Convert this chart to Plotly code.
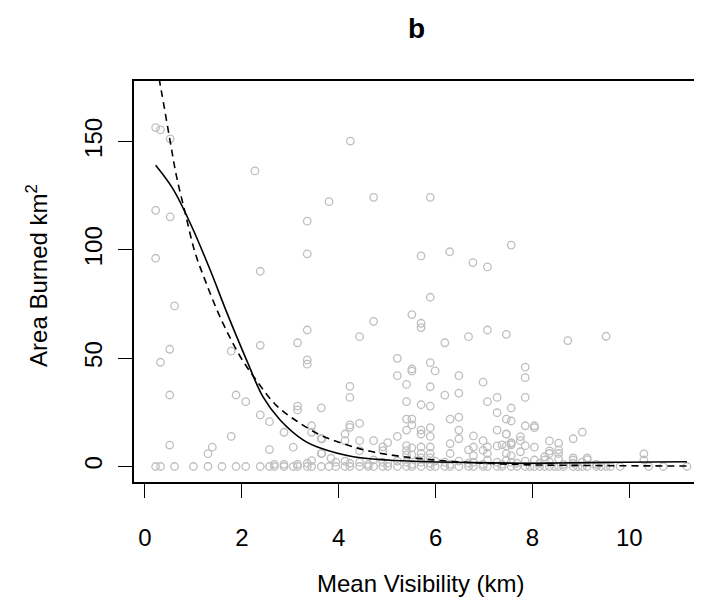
#!/usr/bin/env python3
"""
Panel b - area burned against mean visibility
Grey open circles for the fires, solid and dashed fitted curves on top
"""

import plotly.graph_objects as go

# Fires with some area burned (visibility km, area km2)
vis = [
    0.22, 0.32, 0.52, 2.27, 3.80, 0.22, 0.52, 3.35, 0.22, 3.35, 2.38, 4.24, 4.72, 5.89,
    5.70, 6.29, 6.77, 7.07, 7.56, 0.61, 3.35, 0.51, 3.15, 2.38, 1.78, 0.32, 3.35, 3.35,
    0.51, 1.88, 2.08, 3.15, 3.15, 3.64, 2.38, 2.57, 3.44, 3.44, 2.87, 1.78, 3.64, 0.51,
    1.39, 1.30, 3.06, 2.57, 3.64, 3.44, 2.87, 5.89, 5.51, 5.70, 5.70, 4.72, 4.43, 6.19,
    6.68, 7.07, 7.46, 5.21, 5.21, 5.51, 5.51, 5.89, 5.99, 6.48, 5.40, 5.89, 4.23, 4.23,
    6.19, 6.48, 6.98, 7.07, 7.27, 5.40, 5.70, 5.89, 7.56, 5.40, 5.51, 5.51, 6.30, 6.48,
    7.27, 7.46, 7.56, 4.23, 4.23, 4.43, 4.13, 5.40, 5.70, 5.70, 5.89, 5.89, 6.48, 6.48,
    6.78, 7.27, 7.46, 6.98, 7.56, 4.13, 4.43, 4.72, 5.01, 5.21, 4.91, 4.91, 4.43, 5.40,
    5.40, 5.40, 5.51, 5.51, 5.70, 5.70, 5.70, 5.89, 5.89, 5.89, 6.30, 6.30, 6.68, 6.78,
    6.78, 6.98, 7.07, 7.07, 7.27, 7.37, 7.46, 7.56, 7.46, 7.56, 3.65, 3.65, 3.84, 7.85,
    7.85, 7.85, 7.85, 8.04, 8.04, 7.46, 7.75, 7.75, 7.56, 7.85, 8.04, 7.75, 8.35, 8.54,
    8.84, 9.03, 8.54, 8.54, 8.35, 8.35, 8.25, 8.25, 8.84, 8.84, 9.13, 10.30, 10.30, 9.13,
    8.73, 9.52,
    3.94, 4.13, 4.23, 4.43, 4.61, 4.72, 4.91, 5.01, 5.21, 5.40, 5.51, 5.70, 5.89, 5.99,
    6.19, 6.30, 6.48, 6.68, 6.78, 6.98, 7.07, 7.27, 7.37, 7.46, 7.56, 7.68, 7.85, 8.04,
    8.15, 8.35, 8.54, 8.64, 8.84, 9.03, 9.32, 2.67, 3.15, 3.35,
]
area = [
    156.4, 155.3, 151.2, 136.4, 122.2, 118.2, 115.2, 113.2, 96.1, 98.1, 90.1, 150.2, 124.2, 124.2,
    97.2, 99.1, 94.1, 92.1, 102.2, 74.1, 63.0, 54.1, 57.1, 55.9, 53.2, 48.1, 49.2, 47.2,
    33.0, 33.0, 29.9, 27.9, 26.1, 27.1, 23.8, 20.7, 18.8, 15.8, 15.8, 13.9, 13.0, 9.9,
    8.9, 5.9, 8.9, 7.8, 5.9, 2.7, 1.0, 78.1, 70.1, 66.1, 64.1, 67.0, 59.9, 57.1,
    59.9, 63.0, 61.0, 49.9, 41.9, 45.0, 44.0, 47.9, 44.1, 41.9, 37.9, 36.8, 37.0, 31.9,
    32.9, 33.9, 38.9, 29.9, 31.9, 29.9, 28.5, 27.9, 27.0, 21.9, 21.9, 19.2, 21.9, 22.8,
    24.8, 21.9, 21.0, 19.2, 18.1, 19.9, 15.0, 16.8, 16.8, 15.0, 17.9, 13.9, 16.8, 12.8,
    14.1, 16.8, 15.0, 11.9, 11.0, 11.9, 11.9, 11.9, 11.0, 13.9, 9.1, 7.3, 7.3, 9.6,
    7.3, 5.3, 8.6, 5.4, 9.0, 6.0, 4.0, 9.0, 6.0, 4.0, 10.6, 6.0, 7.7, 9.0,
    5.0, 7.5, 9.0, 6.0, 9.5, 10.0, 9.5, 10.0, 6.0, 5.0, 12.6, 6.1, 3.8, 45.9,
    41.0, 31.9, 18.8, 18.8, 17.9, 14.9, 13.8, 11.9, 10.7, 9.6, 8.9, 6.8, 11.8, 10.8,
    12.8, 15.9, 7.7, 6.0, 7.2, 6.0, 4.5, 3.0, 4.0, 3.0, 3.2, 5.8, 3.0, 4.0,
    58.1, 60.1,
    2.0, 2.5, 1.5, 2.0, 1.0, 3.0, 2.0, 1.5, 2.5, 2.0, 1.0, 2.0, 1.5, 2.5,
    2.0, 1.0, 2.5, 1.5, 2.0, 1.0, 3.0, 2.0, 1.0, 3.0, 2.0, 1.5, 2.5, 3.0,
    1.5, 2.0, 3.5, 1.0, 1.5, 2.0, 1.0, 1.0, 1.0, 1.5,
]

# Fires with no area burned (one per visibility value along the bottom row)
vis_zero = [
    0.22, 0.32, 0.61, 1.00, 1.30, 1.59, 1.88, 2.08, 2.38, 2.57, 2.67, 2.87, 3.06, 3.15,
    3.35, 3.44, 3.64, 3.80, 3.94, 4.13, 4.23, 4.43, 4.61, 4.72, 4.91, 5.01, 5.21, 5.40,
    5.51, 5.70, 5.89, 5.99, 6.19, 6.30, 6.48, 6.68, 6.78, 6.98, 7.07, 7.27, 7.37, 7.56,
    7.68, 7.85, 7.95, 8.04, 8.15, 8.25, 8.35, 8.45, 8.54, 8.64, 8.84, 8.94, 9.03, 9.13,
    9.32, 9.42, 9.52, 9.61, 9.81, 10.40, 10.70, 11.19,
]
area_zero = [0.0] * len(vis_zero)

# Fitted curves
fit_solid_x = [0.22, 0.58, 0.96, 1.34, 1.69, 2.10, 2.44, 2.79, 3.27, 3.62, 4.30, 4.99,
               5.89, 6.80, 7.75, 8.50, 9.50, 10.50, 11.19]
fit_solid_y = [139.0, 128.0, 111.0, 91.0, 71.0, 49.0, 32.0, 21.5, 12.2, 8.5, 4.5, 3.0,
               2.2, 1.8, 1.5, 1.6, 1.9, 2.1, 2.2]
fit_dash_x = [0.22, 0.30, 0.38, 0.52, 0.65, 0.83, 1.03, 1.24, 1.55, 1.96, 2.34, 2.72,
              3.13, 3.62, 4.10, 4.65, 5.34, 6.37, 7.75, 9.00, 11.19]
fit_dash_y = [190.0, 178.0, 168.0, 150.0, 134.0, 117.0, 99.0, 86.0, 69.0, 51.0, 38.5, 28.0,
              21.0, 14.5, 10.5, 7.0, 4.5, 2.3, 0.9, 0.5, 0.2]

x_ticks = [0, 2, 4, 6, 8, 10]
y_ticks = [0, 50, 100, 150]

FONT = "Arial, Liberation Sans, sans-serif"
GREY = "#BEBEBE"

fig = go.Figure()

# Points first, curves drawn over them
point_style = dict(symbol="circle-open", size=7.5, color=GREY, line=dict(color=GREY, width=1.3))
fig.add_trace(go.Scatter(x=vis_zero, y=area_zero, mode="markers", marker=point_style))
fig.add_trace(go.Scatter(x=vis, y=area, mode="markers", marker=point_style))

fig.add_trace(go.Scatter(
    x=fit_solid_x, y=fit_solid_y, mode="lines",
    line=dict(color="black", width=1.6, shape="spline"),
))
fig.add_trace(go.Scatter(
    x=fit_dash_x, y=fit_dash_y, mode="lines",
    line=dict(color="black", width=1.6, dash="7px,5px", shape="spline"),
))

# page body adds an 8px offset, so the figure is a bit smaller than the window
fig.update_layout(
    width=694, height=600,
    margin=dict(l=126, r=0, t=73, b=126),
    showlegend=False,
    plot_bgcolor="white", paper_bgcolor="white",
    font=dict(family=FONT, size=24, color="black"),
)

fig.update_xaxes(
    range=[-0.227, 11.5], tickvals=x_ticks,
    ticks="outside", ticklen=14, tickwidth=1.3, tickcolor="black",
    showline=True, linecolor="black", linewidth=1.5, mirror=True,
    showgrid=False, zeroline=False, ticklabelstandoff=19,
)
fig.update_yaxes(
    range=[-7.15, 177.9], tickvals=y_ticks, tickangle=-90,
    ticks="outside", ticklen=14, tickwidth=1.3, tickcolor="black",
    showline=True, linecolor="black", linewidth=1.5,
    showgrid=False, zeroline=False, ticklabelstandoff=7,
)

# Titles placed as annotations to sit where the panel has them
fig.add_annotation(text="<b>b</b>", xref="paper", yref="paper", x=0.497, y=1.132,
                   showarrow=False, font=dict(size=28), xanchor="center", yanchor="middle")
fig.add_annotation(text="Mean Visibility (km)", xref="paper", yref="paper", x=0.505, y=-0.254,
                   showarrow=False, font=dict(size=24), xanchor="center", yanchor="middle")
fig.add_annotation(text="Area Burned km<sup>2</sup>", xref="paper", yref="paper", x=-0.17, y=0.515,
                   showarrow=False, font=dict(size=24), textangle=-90,
                   xanchor="center", yanchor="middle")

fig.write_html("out.html")
